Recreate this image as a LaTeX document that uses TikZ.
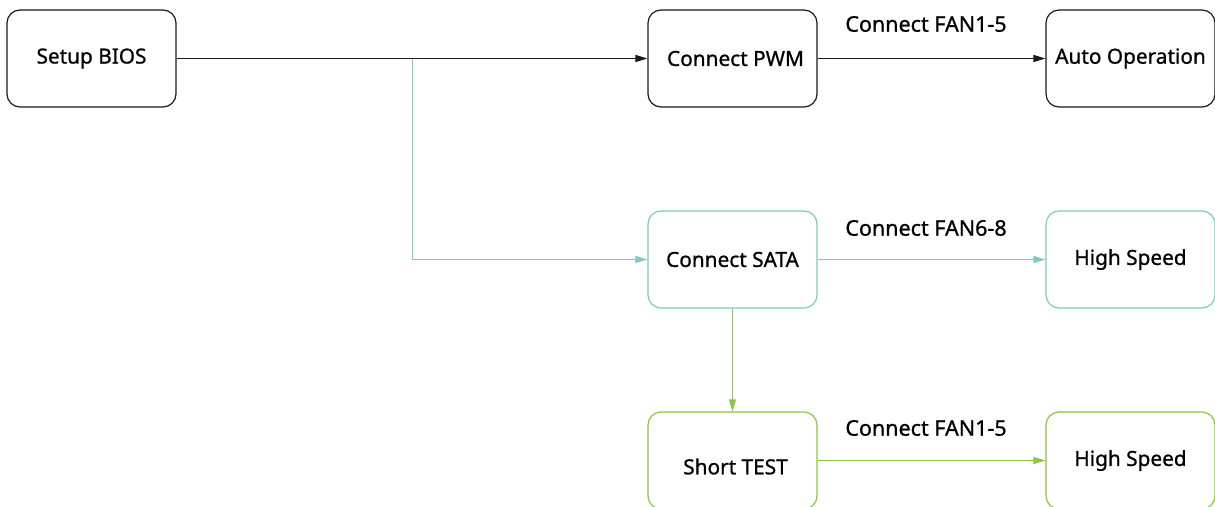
\documentclass[tikz,border=0pt]{standalone}
\usepackage{fontspec}
\setmainfont{Noto Sans}
\newfontfamily\boxfont{Noto Sans}[FakeBold=0.9]
\usetikzlibrary{arrows.meta}
\definecolor{flowteal}{HTML}{7CCBBC}
\definecolor{flowgreen}{HTML}{8CC63F}
\definecolor{flowink}{HTML}{1A1A1A}
\tikzset{
  stepbox/.style={draw=flowink, line width=1.2pt, rounded corners=13pt,
    minimum width=169pt, minimum height=97pt, inner sep=0pt,
    font=\boxfont\fontsize{20.8}{24}\selectfont, text=black, yshift=0pt},
  flow/.style={line width=1.2pt, -{Triangle[length=12pt,width=7pt]}},
  tag/.style={font=\boxfont\fontsize{21.5}{24}\selectfont, text=black, inner sep=0pt}
}
\begin{document}
\begin{tikzpicture}[x=1pt,y=-1pt]
  \clip (0,0) rectangle (1215,506);
  \fill[white] (0,0) rectangle (1215,506);

  % top row
  \node[stepbox] (bios) at (91.5,58.5) {Setup BIOS};
  \node[stepbox] (pwm)  at (732.5,58.5) {\hspace*{6pt}Connect PWM};
  \node[stepbox] (auto) at (1130.5,58.5) {Auto Operation};

  % middle row
  \node[stepbox, draw=flowteal] (sata) at (732.5,259.5) {Connect SATA};
  \node[stepbox, draw=flowteal] (hs1)  at (1130.5,259.5) {High Speed};

  % bottom row
  \node[stepbox, draw=flowgreen, label={[tag, font=\boxfont\fontsize{20.8}{24}\selectfont, yshift=-6pt, xshift=3pt]center:Short TEST}] (short) at (732.5,460.5) {};
  \node[stepbox, draw=flowgreen] (hs2) at (1130.5,460.5) {High Speed};

  % connector labels
  \node[tag] (l1) at (926,24)  {Connect FAN1-5};
  \node[tag] (l2) at (926,228) {Connect FAN6-8};
  \node[tag] (l3) at (926,428) {Connect FAN1-5};

  % connectors
  \coordinate (split) at (412.5,58.5);
  \draw[flow, draw=flowink] (bios) -- (pwm);
  \draw[flow, draw=flowink] (pwm) -- (auto);
  \draw[flow, draw=flowteal] (split) |- (sata);
  \draw[flow, draw=flowteal] (sata) -- (hs1);
  \draw[flow, draw=flowgreen] (sata) -- (short);
  \draw[flow, draw=flowgreen] (short) -- (hs2);
\end{tikzpicture}
\end{document}
